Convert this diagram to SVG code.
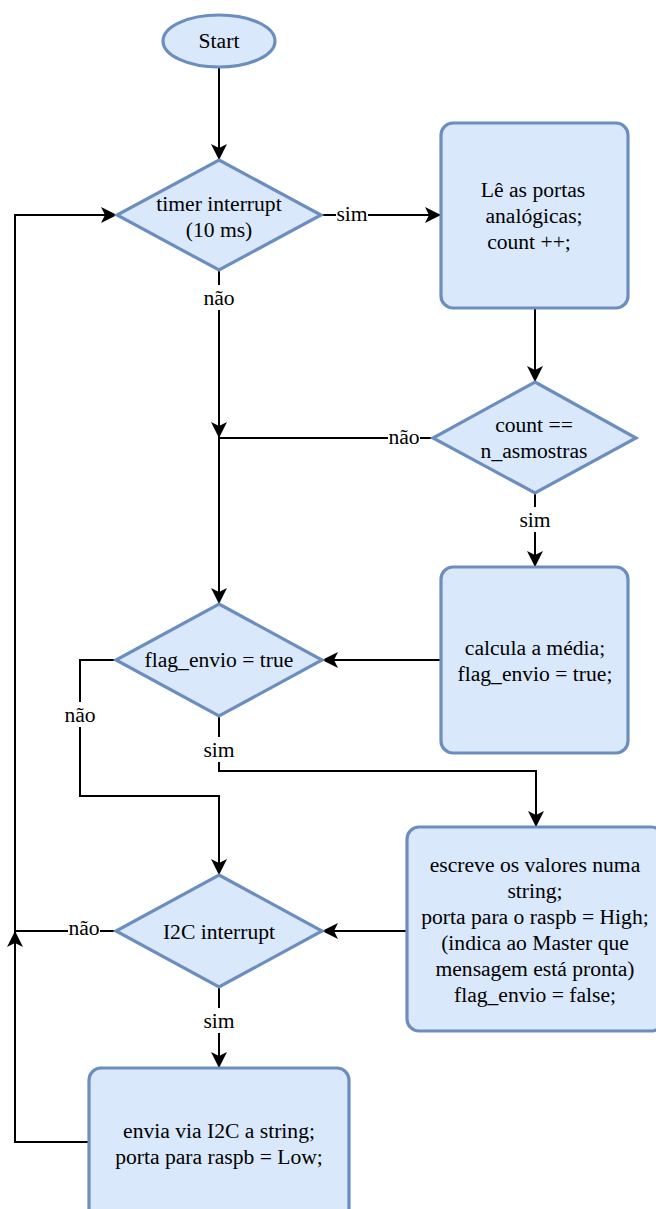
<svg xmlns="http://www.w3.org/2000/svg" width="656" height="1209" viewBox="0 0 656 1209">
  <style>
    .shape { fill: #dae8fc; stroke: #6c8ebf; stroke-width: 3.2; }
    .edge { fill: none; stroke: #000; stroke-width: 2; }
    .arrow { marker-end: url(#arrowhead); }
    text { font-family: "Liberation Serif", "Times New Roman", serif; font-size: 21.6px; fill: #000; text-anchor: middle; }
    .lblbg { fill: #fff; }
  </style>
  <defs>
    <marker id="arrowhead" viewBox="-16 -8 16 16" refX="0" refY="0" markerWidth="16" markerHeight="16" markerUnits="userSpaceOnUse" orient="auto">
      <path d="M0,0 L-16,-8 L-12,0 L-16,8 Z" fill="#000"/>
    </marker>
  </defs>

  <!-- connectors -->
  <g id="connectors">
    <path class="edge arrow" d="M219 67 V160"/>
    <path class="edge arrow" d="M321 215 H441"/>
    <path class="edge arrow" d="M219 270 V438"/>
    <path class="edge arrow" d="M535 308 V382"/>
    <path class="edge" d="M433 438 H219"/>
    <path class="edge arrow" d="M219 438 V604"/>
    <path class="edge arrow" d="M535 493 V567"/>
    <path class="edge arrow" d="M441 660 H322"/>
    <path class="edge arrow" d="M116 660 H80 V796 H219 V875"/>
    <path class="edge arrow" d="M219 716 V771 H536 V827"/>
    <path class="edge arrow" d="M407 931 H322"/>
    <path class="edge arrow" d="M116 931 H15 V215 H117"/>
    <path class="edge arrow" d="M219 987 V1068"/>
    <path class="edge arrow" d="M89 1142 H15 V931"/>

    <!-- edge labels -->
    <rect class="lblbg" x="336" y="201" width="32" height="25"/>
    <text x="352" y="221">sim</text>
    <rect class="lblbg" x="203" y="285" width="32" height="25"/>
    <text x="219" y="305">não</text>
    <rect class="lblbg" x="388" y="424" width="32" height="25"/>
    <text x="404" y="444">não</text>
    <rect class="lblbg" x="519" y="507" width="32" height="25"/>
    <text x="535" y="527">sim</text>
    <rect class="lblbg" x="64" y="702" width="32" height="25"/>
    <text x="80" y="722">não</text>
    <rect class="lblbg" x="203" y="737" width="32" height="25"/>
    <text x="219" y="757">sim</text>
    <rect class="lblbg" x="68" y="915" width="32" height="25"/>
    <text x="84" y="935">não</text>
    <rect class="lblbg" x="203" y="1008" width="32" height="25"/>
    <text x="219" y="1028">sim</text>
  </g>

  <g id="start">
    <ellipse class="shape" cx="219" cy="41" rx="56" ry="26"/>
    <text x="219" y="48">Start</text>
  </g>

  <g id="timer-interrupt">
    <polygon class="shape" points="219,160 321,215 219,270 117,215"/>
    <text x="219" y="211">timer interrupt</text>
    <text x="219" y="237">(10 ms)</text>
  </g>

  <g id="read-ports">
    <rect class="shape" x="441" y="123" width="187" height="185" rx="12"/>
    <text x="533" y="197">Lê as portas</text>
    <text x="534" y="223">analógicas;</text>
    <text x="529" y="249">count ++;</text>
  </g>

  <g id="count-check">
    <polygon class="shape" points="535,382 636,438 535,493 433,438"/>
    <text x="534" y="432">count ==</text>
    <text x="534" y="458">n_asmostras</text>
  </g>

  <g id="average">
    <rect class="shape" x="441" y="567" width="187" height="186" rx="12"/>
    <text x="535" y="655">calcula a média;</text>
    <text x="535" y="681">flag_envio = true;</text>
  </g>

  <g id="flag-check">
    <polygon class="shape" points="219,604 322,660 219,716 116,660"/>
    <text x="219" y="667">flag_envio = true</text>
  </g>

  <g id="write-string">
    <rect class="shape" x="407" y="827" width="256" height="204" rx="12"/>
    <text x="535" y="872">escreve os valores numa</text>
    <text x="535" y="898">string;</text>
    <text x="535" y="924">porta para o raspb = High;</text>
    <text x="535" y="950">(indica ao Master que</text>
    <text x="535" y="976">mensagem está pronta)</text>
    <text x="535" y="1002">flag_envio = false;</text>
  </g>

  <g id="i2c-interrupt">
    <polygon class="shape" points="219,875 322,931 219,987 116,931"/>
    <text x="219" y="939">I2C interrupt</text>
  </g>

  <g id="send-i2c">
    <rect class="shape" x="89" y="1068" width="260" height="162" rx="12"/>
    <text x="219" y="1138">envia via I2C a string;</text>
    <text x="219" y="1164">porta para raspb = Low;</text>
  </g>
</svg>
